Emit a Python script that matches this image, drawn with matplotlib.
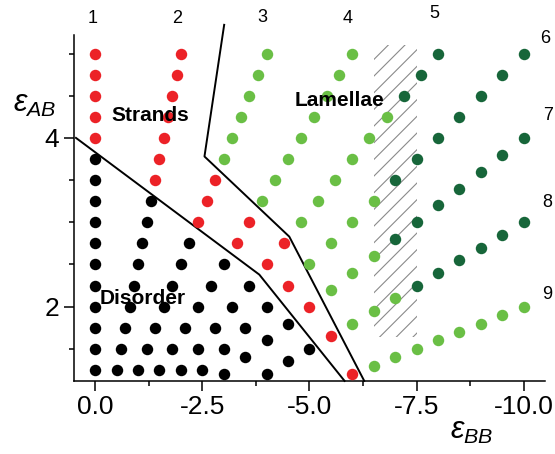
import matplotlib
matplotlib.use("Agg")
import matplotlib.pyplot as plt
from matplotlib.patches import Rectangle
from matplotlib.ticker import MultipleLocator, FormatStrFormatter

plt.rcParams["font.family"] = ["Liberation Sans", "DejaVu Sans"]
plt.rcParams["mathtext.fontset"] = "custom"
plt.rcParams["mathtext.it"] = "Liberation Sans:italic"
plt.rcParams["mathtext.rm"] = "Liberation Sans"
plt.rcParams["axes.unicode_minus"] = False
plt.rcParams["hatch.linewidth"] = 0.8

# simulated points (eps_BB, eps_AB), grouped by phase
black_bb = [0, 0, 0, 0, 0, 0, 0, 0, 0, 0, 0,
            -0.5, -0.6, -0.7, -0.8, -0.9, -1.0, -1.1, -1.2, -1.3,
            -1.0, -1.2, -1.4, -1.6, -1.8, -2.0, -2.2,
            -1.5, -1.8, -2.1, -2.4, -2.7, -3.0,
            -2.0, -2.4, -2.8, -3.2, -3.6,
            -2.5, -3.0, -3.5, -4.0,
            -3.0, -3.5, -4.0, -4.5,
            -4.0, -4.5, -5.0]
black_ab = [1.25, 1.5, 1.75, 2.0, 2.25, 2.5, 2.75, 3.0, 3.25, 3.5, 3.75,
            1.25, 1.5, 1.75, 2.0, 2.25, 2.5, 2.75, 3.0, 3.25,
            1.25, 1.5, 1.75, 2.0, 2.25, 2.5, 2.75,
            1.25, 1.5, 1.75, 2.0, 2.25, 2.5,
            1.25, 1.5, 1.75, 2.0, 2.25,
            1.25, 1.5, 1.75, 2.0,
            1.2, 1.4, 1.6, 1.8,
            1.2, 1.35, 1.5]

red_bb = [0, 0, 0, 0, 0,
          -1.4, -1.5, -1.6, -1.7, -1.8, -1.9, -2.0,
          -2.4, -2.6, -2.8,
          -3.3, -3.6,
          -4.0, -4.4,
          -4.5, -5.0, -5.5, -6.0]
red_ab = [4.0, 4.25, 4.5, 4.75, 5.0,
          3.5, 3.75, 4.0, 4.25, 4.5, 4.75, 5.0,
          3.0, 3.25, 3.5,
          2.75, 3.0,
          2.5, 2.75,
          2.25, 2.0, 1.65, 1.2]

lgreen_bb = [-3.0, -3.2, -3.4, -3.6, -3.8, -4.0,
             -3.9, -4.2, -4.5, -4.8, -5.1, -5.4, -5.7, -6.0,
             -4.8, -5.2, -5.6, -6.0, -6.4, -6.8,
             -5.0, -5.5, -6.0, -6.5,
             -5.5, -6.0, -6.5,
             -6.0, -6.5, -7.0,
             -6.5, -7.0, -7.5, -8.0, -8.5, -9.0, -9.5, -10.0]
lgreen_ab = [3.75, 4.0, 4.25, 4.5, 4.75, 5.0,
             3.25, 3.5, 3.75, 4.0, 4.25, 4.5, 4.75, 5.0,
             3.0, 3.25, 3.5, 3.75, 4.0, 4.25,
             2.5, 2.75, 3.0, 3.25,
             2.2, 2.4, 2.6,
             1.8, 1.95, 2.1,
             1.3, 1.4, 1.5, 1.6, 1.7, 1.8, 1.9, 2.0]

dgreen_bb = [-7.2, -7.6, -8.0,
             -7.0, -7.5, -8.0, -8.5, -9.0, -9.5, -10.0,
             -7.0, -7.5, -8.0, -8.5, -9.0, -9.5, -10.0,
             -7.5, -8.0, -8.5, -9.0, -9.5, -10.0]
dgreen_ab = [4.5, 4.75, 5.0,
             3.5, 3.75, 4.0, 4.25, 4.5, 4.75, 5.0,
             2.8, 3.0, 3.2, 3.4, 3.6, 3.8, 4.0,
             2.25, 2.4, 2.55, 2.7, 2.85, 3.0]

# phase boundaries
disorder_bb = [0.45, -3.83, -5.82]
disorder_ab = [4.0, 2.38, 1.12]
strands_bb = [-3.01, -2.55, -4.53, -6.28]
strands_ab = [5.34, 3.78, 2.83, 1.12]

line_labels = ["1", "2", "3", "4", "5", "6", "7", "8", "9"]
label_bb = [0.07, -1.92, -3.90, -5.89, -7.92, -10.51, -10.56, -10.56, -10.56]
label_ab = [5.42, 5.42, 5.43, 5.42, 5.47, 5.18, 4.27, 3.23, 2.14]

fig = plt.figure(figsize=(5.55, 4.54), dpi=100)
ax = fig.add_axes([0.133, 0.161, 0.849, 0.762])

ax.add_patch(Rectangle((-6.5, 1.64), -1.0, 3.46, fill=False, hatch="//",
                       edgecolor="#8a8a8a", linewidth=0, zorder=1))

s = 68
ax.scatter(black_bb, black_ab, s=s, color="black", linewidths=0, zorder=3)
ax.scatter(red_bb, red_ab, s=s, color="#ec2227", linewidths=0, zorder=3)
ax.scatter(lgreen_bb, lgreen_ab, s=s, color="#6abf45", linewidths=0, zorder=3)
ax.scatter(dgreen_bb, dgreen_ab, s=s, color="#17663a", linewidths=0, zorder=3)

ax.plot(disorder_bb, disorder_ab, color="black", lw=1.4, zorder=2, clip_on=False)
ax.plot(strands_bb, strands_ab, color="black", lw=1.4, zorder=2, clip_on=False)

ax.text(-1.28, 4.27, "Strands", fontsize=15, fontweight="bold", ha="center", va="center", zorder=4)
ax.text(-5.7, 4.44, "Lamellae", fontsize=15, fontweight="bold", ha="center", va="center", zorder=4)
ax.text(-1.1, 2.1, "Disorder", fontsize=15, fontweight="bold", ha="center", va="center", zorder=4)

for t, xb, ya in zip(line_labels, label_bb, label_ab):
    ax.text(xb, ya, t, fontsize=13, ha="center", va="center", clip_on=False)

ax.set_xlim(0.5, -10.5)
ax.set_ylim(1.12, 5.22)
ax.xaxis.set_major_locator(MultipleLocator(2.5))
ax.xaxis.set_minor_locator(MultipleLocator(1.25))
ax.yaxis.set_major_locator(MultipleLocator(2))
ax.yaxis.set_minor_locator(MultipleLocator(0.5))
ax.xaxis.set_major_formatter(FormatStrFormatter("%.1f"))
ax.yaxis.set_major_formatter(FormatStrFormatter("%d"))
ax.tick_params(which="major", length=7, width=1.1, labelsize=19, direction="out")
ax.tick_params(which="minor", length=3.5, width=1.1, direction="out")

for side in ["top", "right"]:
    ax.spines[side].set_visible(False)
for side in ["left", "bottom"]:
    ax.spines[side].set_linewidth(1.1)

fig.text(0.063, 0.771, r"$\varepsilon_{AB}$", fontsize=22, ha="center", va="center")
fig.text(0.849, 0.051, r"$\varepsilon_{BB}$", fontsize=22, ha="center", va="center")

fig.savefig("out.png", dpi=100)
